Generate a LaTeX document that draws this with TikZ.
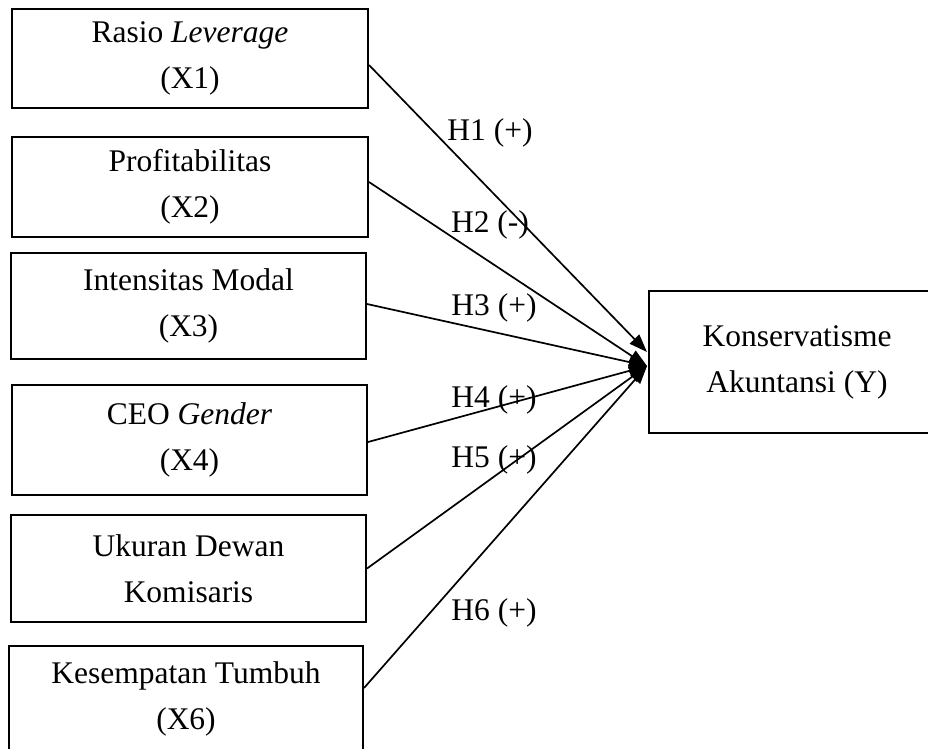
\documentclass[tikz,border=0pt]{standalone}
\usepackage{fontspec}
\setmainfont{Liberation Serif}
\usetikzlibrary{arrows.meta}
\begin{document}
\begin{tikzpicture}[x=1pt,y=-1pt,
  box/.style={draw=black,line width=2pt,align=center,inner sep=0pt,
    font=\fontsize{31.5}{46}\selectfont},
  lbl/.style={inner sep=0pt,font=\fontsize{31.5}{38}\selectfont},
  arr/.style={line width=1.7pt,-{Triangle[length=18pt,width=13pt]}}]
\useasboundingbox (0,0) rectangle (928,748);
\clip (0,0) rectangle (928,748);
\node[box,minimum width=356pt,minimum height=99pt] (b1) at (190,58.5) {Rasio \textit{Leverage}\\(X1)};
\node[box,minimum width=356pt,minimum height=100pt] (b2) at (190,187) {Profitabilitas\\(X2)};
\node[box,minimum width=355pt,minimum height=106pt] (b3) at (188.5,306) {Intensitas Modal\\(X3)};
\node[box,minimum width=355pt,minimum height=110pt] (b4) at (189.5,440) {CEO \textit{Gender}\\(X4)};
\node[box,minimum width=355pt,minimum height=107pt] (b5) at (188.5,568.5) {Ukuran Dewan\\Komisaris};
\node[box,minimum width=354pt,minimum height=105pt] (b6) at (186,698.5) {Kesempatan Tumbuh\\(X6)};
\node[box,minimum width=296pt,minimum height=142pt] (y) at (797,362) {Konservatisme\\Akuntansi (Y)};
\coordinate (t1) at ([xshift=-1pt,yshift=10pt]y.west);
\coordinate (t) at ([xshift=-1pt,yshift=-4pt]y.west);
\draw[arr] ([yshift=-6.5pt]b1.east) -- (t1);
\draw[arr] ([yshift=5pt]b2.east) -- (t);
\draw[arr] ([yshift=2pt]b3.east) -- (t);
\draw[arr] ([yshift=-2pt]b4.east) -- (t);
\draw[arr] (b5.east) -- (t);
\draw[arr] ([yshift=10.5pt]b6.east) -- (t);
\node[lbl] (h1) at (490,133) {H1 (+)};
\node[lbl] (h2) at (490,225) {H2 (-)};
\node[lbl] (h3) at (494,308) {H3 (+)};
\node[lbl] (h4) at (494,400) {H4 (+)};
\node[lbl] (h5) at (494,460) {H5 (+)};
\node[lbl] (h6) at (494,613) {H6 (+)};
\end{tikzpicture}
\end{document}
